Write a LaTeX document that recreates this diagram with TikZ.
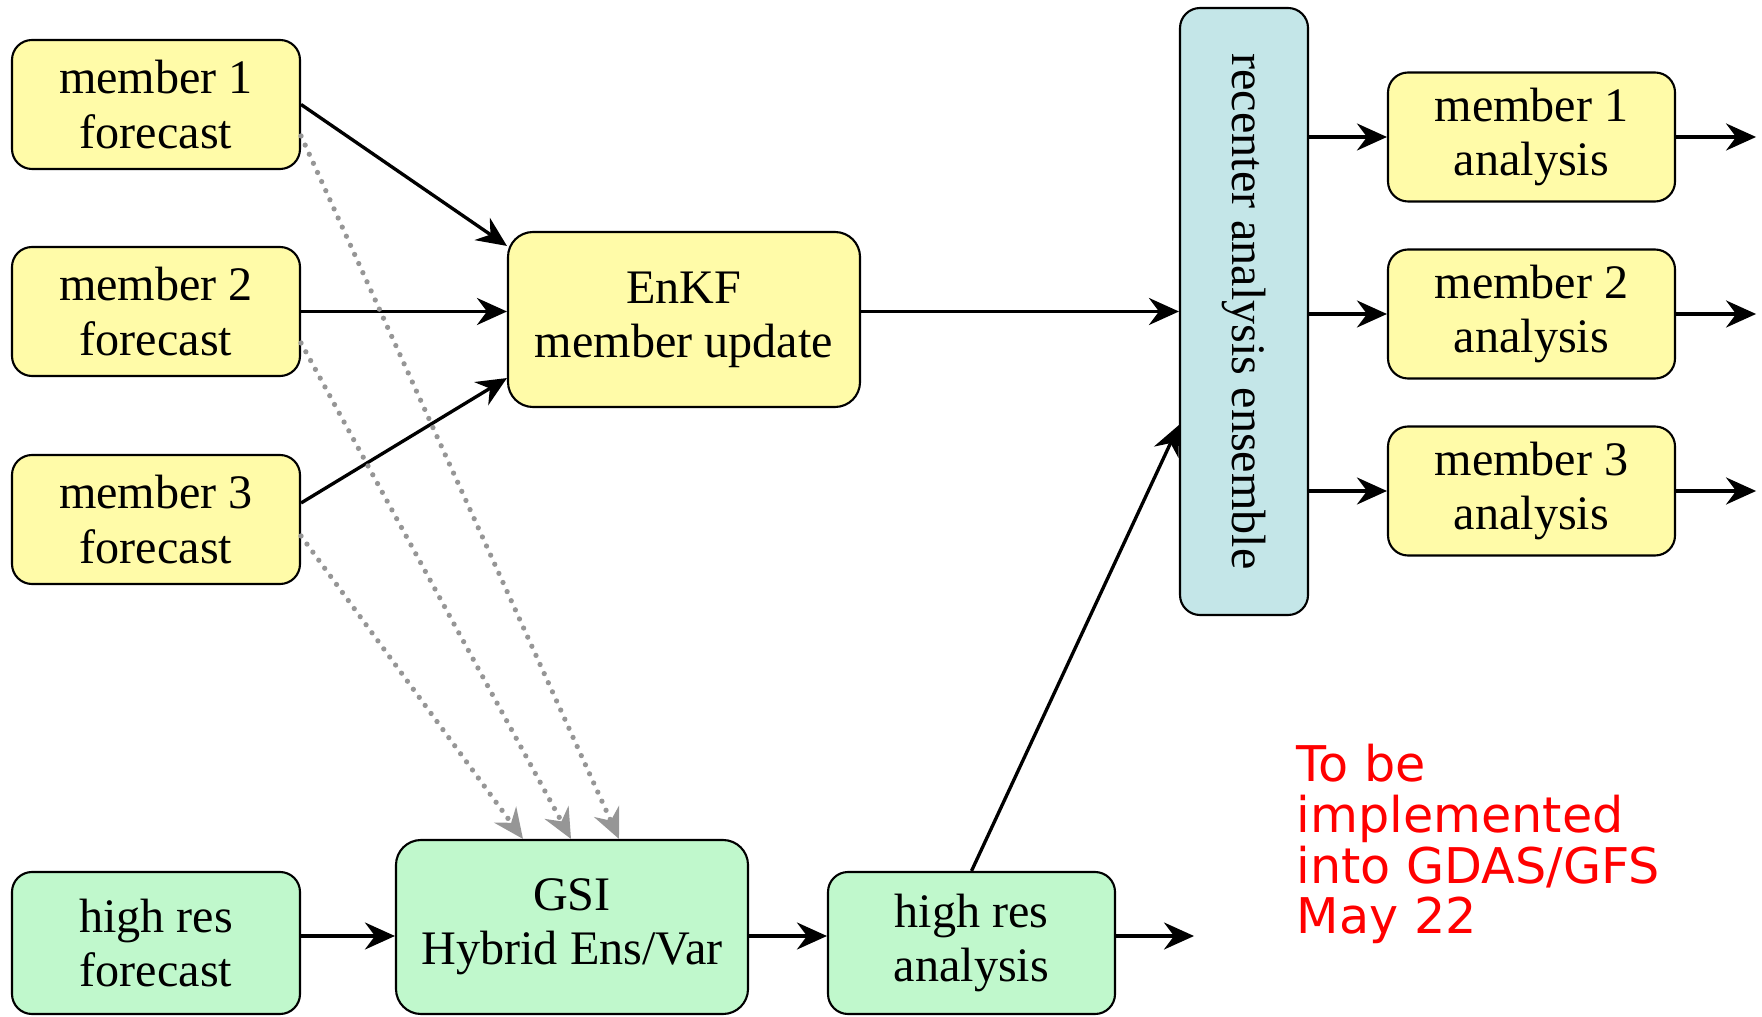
\documentclass[tikz,border=0pt]{standalone}
\usepackage{fontspec}
\setmainfont{Liberation Serif}
\newfontfamily\notefont{DejaVu Sans}
\usepackage{tikz}
\usetikzlibrary{arrows,positioning}
\usetikzlibrary{calc}
\usetikzlibrary{arrows.meta}

\definecolor{memyellow}{RGB}{255,251,168}
\definecolor{hiresgreen}{RGB}{192,248,204}
\definecolor{recblue}{RGB}{196,230,232}
\definecolor{dotgray}{RGB}{150,150,150}

\begin{document}
\begin{tikzpicture}[node distance=1cm, auto]

\tikzstyle{member} = [rectangle, rounded corners=0.2cm, minimum width=2.88cm, minimum height=1.29cm, text centered, align=center, draw=black, line width=0.6pt, fill=memyellow, inner sep=0pt, font=\fontsize{13.7}{15.4}\selectfont]
\tikzstyle{hires} = [member, fill=hiresgreen, minimum height=1.42cm]
\tikzstyle{process} = [member, minimum width=3.52cm, minimum height=1.75cm, rounded corners=0.25cm]
\tikzstyle{arrow} = [line width=0.95pt, -{Stealth[length=0.3cm, width=0.27cm, inset=0.1cm]}]
\tikzstyle{ensarrow} = [arrow, dotgray, line width=1.5pt, dash pattern=on 0pt off 0.1cm, line cap=round]

\useasboundingbox (0,0) rectangle (17.62,10.16);

\node (m1f) [member] at (1.56,9.115) {member 1\\forecast};
\node (m2f) [member, below of=m1f, yshift=-1.07cm] {member 2\\forecast};
\node (m3f) [member, below of=m2f, yshift=-1.08cm] {member 3\\forecast};
\node (hrf) [hires, below of=m3f, yshift=-3.235cm] {high res\\forecast};
\node (enkf) [process, right of=m2f, xshift=4.28cm, yshift=-0.08cm] {EnKF\\member update};
\node (gsi) [process, fill=hiresgreen, minimum height=1.74cm, right of=hrf, xshift=3.16cm, yshift=0.16cm] {GSI\\Hybrid Ens/Var};
\node (har) [hires, minimum width=2.87cm, right of=gsi, xshift=2.995cm, yshift=-0.16cm] {high res\\analysis};
\node (rec) [member, fill=recblue, minimum width=1.28cm, minimum height=6.07cm, right of=enkf, xshift=4.6cm, yshift=0.08cm] {\rotatebox{-90}{recenter analysis ensemble}};
\node (a2) [member, minimum width=2.87cm, right of=rec, xshift=1.875cm, yshift=-0.025cm] {member 2\\analysis};
\node (a1) [member, minimum width=2.87cm, above of=a2, yshift=0.77cm] {member 1\\analysis};
\node (a3) [member, minimum width=2.87cm, below of=a2, yshift=-0.77cm] {member 3\\analysis};
\node (note) [anchor=north west, inner sep=0pt, align=left, text=red, font=\notefont\fontsize{14}{14.5}\selectfont] at (12.96,2.73) {To be\\implemented\\into GDAS/GFS\\May 22};

\coordinate (bl) at (0,0.80);
\coordinate (hout) at (11.94,0.80);

\draw [arrow] (m1f.east) -- ($(enkf.north west)+(0,-0.15)$);
\draw [arrow] (m2f.east) -- (m2f.east -| enkf.west);
\draw [arrow] ($(m3f.east)+(0,0.165)$) -- ($(enkf.south west)+(0,0.30)$);
\draw [arrow] (enkf.east |- rec.west) -- (rec.west);
\draw [arrow] (har.north) -- ($(rec.west)+(0,-1.135)$);
\foreach \i in {1,2,3} {
  \coordinate (o\i) at ($(a\i.east)+(0.8,0)$);
  \draw [arrow] (rec.east |- a\i.west) -- (a\i.west);
  \draw [arrow] (a\i.east) -- (o\i);
}
\draw [arrow] (hrf.east |- bl) -- (gsi.west |- bl);
\draw [arrow] (gsi.east |- bl) -- (har.west |- bl);
\draw [arrow] (har.east |- bl) -- (hout);
% ensemble members feed the hybrid
\draw [ensarrow] ($(m1f.east)+(0,-0.315)$) -- ($(gsi.north)+(0.47,0)$);
\draw [ensarrow] ($(m2f.east)+(0,-0.315)$) -- ($(gsi.north)+(-0.01,0)$);
\draw [ensarrow] ($(m3f.east)+(0,-0.165)$) -- ($(gsi.north)+(-0.49,0)$);
\end{tikzpicture}
\end{document}
